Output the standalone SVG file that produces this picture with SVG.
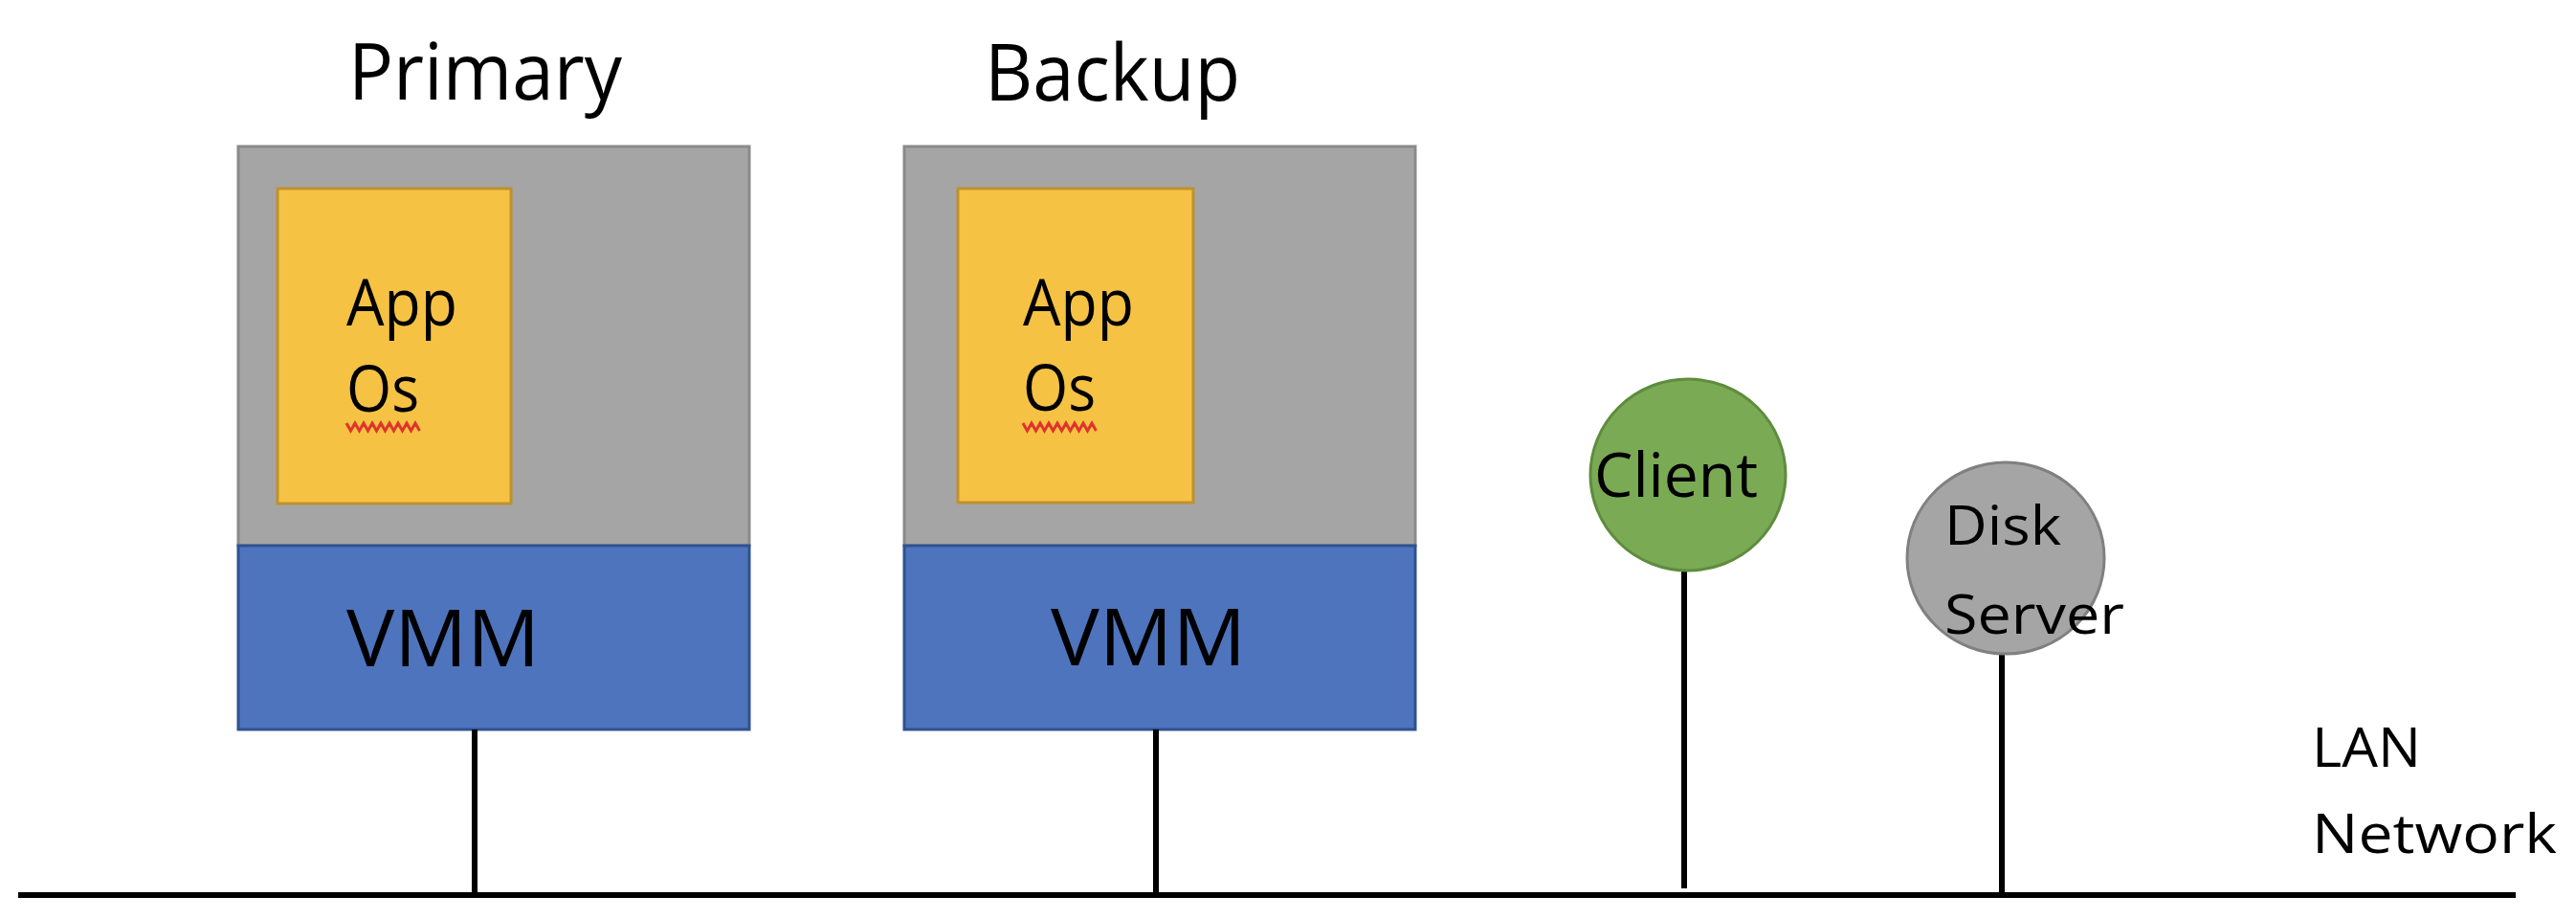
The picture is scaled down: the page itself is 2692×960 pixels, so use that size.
<svg xmlns="http://www.w3.org/2000/svg" width="2692" height="960" viewBox="0 0 2692 960">
<style>
text{font-family:"Open Sans","Noto Sans","Liberation Sans",sans-serif;fill:#000}
.host{fill:#A5A5A5;stroke:#8A8A8A;stroke-width:3}
.guest{fill:#F5C243;stroke:#BF912F;stroke-width:3}
.vmm{fill:#4E74BE;stroke:#2F528F;stroke-width:3}
.wire{stroke:#000;stroke-width:6;fill:none}
.squig{stroke:#E0332B;stroke-width:3;fill:none}
</style>
<rect width="2692" height="960" fill="#FFFFFF"/>
<g id="primary">
<text x="364" y="104" font-size="83" textLength="286" lengthAdjust="spacingAndGlyphs">Primary</text>
<rect class="host" x="249" y="153" width="534" height="417"/>
<rect class="guest" x="290" y="197" width="244" height="329"/>
<text x="362" y="340" font-size="67" textLength="116" lengthAdjust="spacingAndGlyphs">App</text>
<text x="362" y="430" font-size="67" textLength="76" lengthAdjust="spacingAndGlyphs">Os</text>
<path class="squig" d="M362 442 l4.5 8 l4.5 -8 l4.5 8 l4.5 -8 l4.5 8 l4.5 -8 l4.5 8 l4.5 -8 l4.5 8 l4.5 -8 l4.5 8 l4.5 -8 l4.5 8 l4.5 -8 l4.5 8 l4.5 -8 l4.5 8"/>
<rect class="vmm" x="249" y="570" width="534" height="192"/>
<text x="362" y="696" font-size="83" textLength="202" lengthAdjust="spacingAndGlyphs">VMM</text>
</g>
<g id="backup">
<text x="1029" y="105" font-size="83" textLength="267" lengthAdjust="spacingAndGlyphs">Backup</text>
<rect class="host" x="945" y="153" width="534" height="417"/>
<rect class="guest" x="1001" y="197" width="246" height="328"/>
<text x="1069" y="340" font-size="67" textLength="116" lengthAdjust="spacingAndGlyphs">App</text>
<text x="1069" y="429" font-size="67" textLength="76" lengthAdjust="spacingAndGlyphs">Os</text>
<path class="squig" d="M1069 442 l4.5 8 l4.5 -8 l4.5 8 l4.5 -8 l4.5 8 l4.5 -8 l4.5 8 l4.5 -8 l4.5 8 l4.5 -8 l4.5 8 l4.5 -8 l4.5 8 l4.5 -8 l4.5 8 l4.5 -8 l4.5 8"/>
<rect class="vmm" x="945" y="570" width="534" height="192"/>
<text x="1098" y="695" font-size="83" textLength="204" lengthAdjust="spacingAndGlyphs">VMM</text>
</g>
<g id="connectors">
<line class="wire" x1="19" y1="935" x2="2629" y2="935"/>
<line class="wire" x1="496" y1="762" x2="496" y2="935"/>
<line class="wire" x1="1208" y1="762" x2="1208" y2="935"/>
<line class="wire" x1="1760" y1="595" x2="1760" y2="928"/>
<line class="wire" x1="2092" y1="683" x2="2092" y2="935"/>
</g>
<g id="client">
<ellipse cx="1764" cy="496" rx="102" ry="100" fill="#7BAA55" stroke="#5E8C3E" stroke-width="3"/>
<text x="1666" y="519" font-size="64" textLength="171" lengthAdjust="spacingAndGlyphs">Client</text>
</g>
<g id="disk-server">
<ellipse cx="2096" cy="583" rx="103" ry="100" fill="#A5A5A5" stroke="#808080" stroke-width="3"/>
<text x="2032" y="569" font-size="57" textLength="122" lengthAdjust="spacingAndGlyphs">Disk</text>
<text x="2032" y="662" font-size="57" textLength="188" lengthAdjust="spacingAndGlyphs">Server</text>
</g>
<g id="lan">
<text x="2416" y="801" font-size="57" textLength="114" lengthAdjust="spacingAndGlyphs">LAN</text>
<text x="2416" y="891" font-size="57" textLength="256" lengthAdjust="spacingAndGlyphs">Network</text>
</g>
</svg>
